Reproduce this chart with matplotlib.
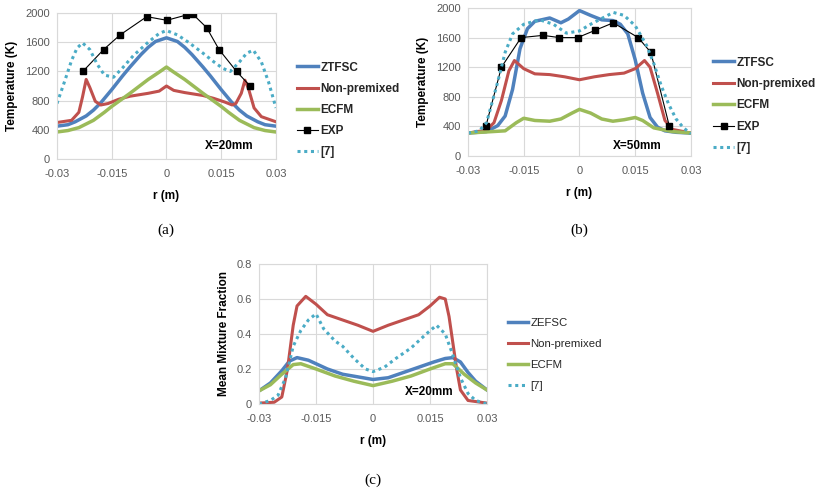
import matplotlib
matplotlib.use("Agg")
import matplotlib.pyplot as plt

# ---- panel (a): temperature, X=20mm ----
a_ztfsc_r = [-0.03, -0.027, -0.025, -0.022, -0.02, -0.018, -0.015, -0.012, -0.01, -0.007, -0.005, -0.003, 0,
             0.003, 0.005, 0.007, 0.01, 0.012, 0.015, 0.018, 0.02, 0.022, 0.025, 0.027, 0.03]
a_ztfsc_t = [450, 470, 510, 590, 670, 770, 950, 1140, 1260, 1430, 1530, 1610, 1660,
             1610, 1530, 1430, 1260, 1140, 950, 770, 670, 590, 510, 470, 450]

a_ecfm_r = [-0.03, -0.027, -0.024, -0.02, -0.017, -0.015, -0.01, -0.005, -0.002, 0,
            0.002, 0.005, 0.01, 0.015, 0.017, 0.02, 0.024, 0.027, 0.03]
a_ecfm_t = [370, 390, 430, 530, 640, 720, 900, 1090, 1190, 1260,
            1190, 1090, 900, 720, 640, 530, 430, 390, 370]

a_nonp_r = [-0.03, -0.026, -0.024, -0.023, -0.022, -0.021, -0.0195, -0.018, -0.016, -0.013, -0.01, -0.005, -0.002, 0,
            0.002, 0.005, 0.01, 0.013, 0.016, 0.018, 0.019, 0.0205, 0.0215, 0.0225, 0.024, 0.026, 0.03]
a_nonp_t = [500, 530, 640, 850, 1090, 980, 790, 740, 760, 820, 860, 900, 930, 1000,
            940, 910, 870, 830, 780, 740, 760, 900, 1080, 960, 700, 580, 510]

a_ref7_r = [-0.03, -0.028, -0.026, -0.0245, -0.023, -0.021, -0.019, -0.017, -0.0145, -0.012, -0.009, -0.005, -0.002, 0,
            0.003, 0.006, 0.01, 0.013, 0.0155, 0.0175, 0.02, 0.022, 0.0238, 0.026, 0.028, 0.03]
a_ref7_t = [760, 1050, 1350, 1520, 1590, 1500, 1300, 1150, 1120, 1250, 1420, 1600, 1720, 1760,
            1700, 1600, 1450, 1330, 1240, 1200, 1330, 1450, 1490, 1330, 1050, 700]

a_exp_r = [-0.0229, -0.0172, -0.0127, -0.0054, 0.0001, 0.0053, 0.0072, 0.011, 0.0144, 0.0192, 0.0229]
a_exp_t = [1200, 1500, 1700, 1950, 1900, 1970, 1985, 1800, 1500, 1200, 1000]

# ---- panel (b): temperature, X=50mm ----
b_ztfsc_r = [-0.03, -0.025, -0.022, -0.02, -0.018, -0.016, -0.014, -0.012, -0.008, -0.005, -0.003, 0,
             0.003, 0.006, 0.009, 0.011, 0.013, 0.015, 0.017, 0.019, 0.021, 0.023, 0.026, 0.03]
b_ztfsc_t = [310, 330, 410, 540, 900, 1450, 1720, 1820, 1865, 1800, 1850, 1965,
             1900, 1840, 1830, 1780, 1650, 1300, 850, 520, 390, 340, 320, 310]

b_nonp_r = [-0.03, -0.025, -0.023, -0.021, -0.019, -0.0175, -0.015, -0.012, -0.008, -0.004, 0,
            0.004, 0.008, 0.012, 0.015, 0.0175, 0.019, 0.021, 0.023, 0.025, 0.03]
b_nonp_t = [310, 350, 450, 750, 1150, 1290, 1180, 1110, 1100, 1070, 1030,
            1070, 1100, 1120, 1180, 1290, 1200, 850, 480, 360, 310]

b_ecfm_r = [-0.03, -0.02, -0.017, -0.015, -0.012, -0.008, -0.005, -0.002, 0,
            0.003, 0.006, 0.009, 0.012, 0.015, 0.017, 0.02, 0.025, 0.03]
b_ecfm_t = [310, 340, 450, 510, 480, 470, 500, 580, 630,
            580, 500, 470, 490, 520, 480, 380, 330, 310]

b_ref7_r = [-0.03, -0.027, -0.025, -0.022, -0.02, -0.018, -0.015, -0.0107, -0.007, -0.0035, 0,
            0.003, 0.0091, 0.012, 0.015, 0.018, 0.02, 0.022, 0.024, 0.026, 0.028, 0.03]
b_ref7_t = [310, 340, 450, 1000, 1400, 1650, 1780, 1840, 1780, 1660, 1690,
            1780, 1940, 1900, 1760, 1500, 1250, 950, 700, 500, 380, 300]

b_exp_r = [-0.0252, -0.021, -0.0157, -0.0098, -0.0054, -0.0005, 0.0043, 0.0091, 0.0158, 0.0192, 0.0242]
b_exp_t = [400, 1200, 1600, 1630, 1600, 1600, 1700, 1800, 1600, 1400, 400]

# ---- panel (c): mean mixture fraction, X=20mm ----
c_zefsc_r = [-0.03, -0.027, -0.024, -0.022, -0.02, -0.017, -0.012, -0.008, -0.004, 0,
             0.004, 0.008, 0.012, 0.016, 0.019, 0.021, 0.023, 0.025, 0.027, 0.03]
c_zefsc_z = [0.075, 0.12, 0.19, 0.245, 0.265, 0.25, 0.2, 0.17, 0.155, 0.14,
             0.15, 0.18, 0.21, 0.24, 0.26, 0.265, 0.24, 0.18, 0.13, 0.08]

c_nonp_r = [-0.03, -0.026, -0.024, -0.0225, -0.021, -0.02, -0.0177, -0.015, -0.012, -0.008, -0.004, 0,
            0.004, 0.008, 0.012, 0.015, 0.0175, 0.019, 0.02, 0.021, 0.022, 0.023, 0.025, 0.03]
c_nonp_z = [0.005, 0.01, 0.04, 0.2, 0.45, 0.56, 0.615, 0.57, 0.51, 0.48, 0.45, 0.415,
            0.45, 0.48, 0.51, 0.56, 0.61, 0.6, 0.5, 0.35, 0.2, 0.08, 0.02, 0.005]

c_ecfm_r = [-0.03, -0.027, -0.024, -0.021, -0.019, -0.015, -0.01, -0.005, 0,
            0.005, 0.01, 0.015, 0.019, 0.021, 0.024, 0.027, 0.03]
c_ecfm_z = [0.075, 0.11, 0.17, 0.225, 0.23, 0.2, 0.16, 0.13, 0.105,
            0.13, 0.16, 0.2, 0.23, 0.23, 0.17, 0.12, 0.08]

c_ref7_r = [-0.03, -0.027, -0.025, -0.023, -0.021, -0.019, -0.017, -0.015, -0.013, -0.01, -0.008, -0.005, -0.002, 0,
            0.003, 0.006, 0.01, 0.014, 0.0167, 0.019, 0.021, 0.023, 0.025, 0.027, 0.03]
c_ref7_z = [0.0, 0.02, 0.05, 0.15, 0.33, 0.42, 0.48, 0.515, 0.43, 0.36, 0.33, 0.26, 0.2, 0.185,
            0.21, 0.26, 0.32, 0.4, 0.45, 0.4, 0.28, 0.15, 0.06, 0.02, 0.0]

r_ticks = [-0.03, -0.015, 0, 0.015, 0.03]
r_labels = ["-0.03", "-0.015", "0", "0.015", "0.03"]

BLUE = "#4F81BD"
RED = "#C0504D"
GREEN = "#9BBB59"
CYAN = "#4BACC6"
GRAY = "#595959"
GRID = "#D9D9D9"

plt.rcParams["font.family"] = ["Liberation Sans", "DejaVu Sans"]

fig = plt.figure(figsize=(8.15, 4.96), dpi=100)


def style_axes(ax, yticks, ylabels, ylabel, ylim):
    ax.set_xlim(-0.03, 0.03)
    ax.set_ylim(*ylim)
    ax.set_xticks(r_ticks)
    ax.set_xticklabels(r_labels)
    ax.set_yticks(yticks)
    ax.set_yticklabels(ylabels)
    ax.grid(True, color=GRID, linewidth=0.8)
    ax.set_axisbelow(True)
    for s in ax.spines.values():
        s.set_color(GRID)
        s.set_linewidth(0.8)
    ax.tick_params(length=0, labelsize=8, colors=GRAY)
    ax.tick_params(axis="x", pad=7)
    ax.tick_params(axis="y", pad=5)
    ax.set_xlabel("r (m)", fontsize=8.5, fontweight="bold", labelpad=8)
    ax.set_ylabel(ylabel, fontsize=8.5, fontweight="bold", labelpad=5)


def add_legend(ax, x, y, bold=True, size=8.5, spacing=0.75):
    ax.legend(loc="upper left", bbox_to_anchor=(x, y), bbox_transform=fig.transFigure,
              frameon=False, fontsize=size, handlelength=1.8, handletextpad=0.2,
              labelspacing=spacing, borderpad=0, borderaxespad=0)
    for t in ax.get_legend().get_texts():
        if bold:
            t.set_fontweight("bold")
        t.set_color("#262626")


t_ticks = [0, 400, 800, 1200, 1600, 2000]
t_labels = [str(v) for v in t_ticks]

# (a)
ax1 = fig.add_axes([0.0699, 0.6794, 0.2687, 0.2944])
ax1.plot(a_ztfsc_r, a_ztfsc_t, color=BLUE, lw=2.5, label="ZTFSC")
ax1.plot(a_nonp_r, a_nonp_t, color=RED, lw=2.2, label="Non-premixed")
ax1.plot(a_ecfm_r, a_ecfm_t, color=GREEN, lw=2.5, label="ECFM")
ax1.plot(a_exp_r, a_exp_t, color="black", lw=0.8, marker="s", ms=5, label="EXP")
ax1.plot(a_ref7_r, a_ref7_t, color=CYAN, lw=2.2, ls=(0, (1, 1.2)), label="[7]")
style_axes(ax1, t_ticks, t_labels, "Temperature (K)", (0, 2000))
ax1.text(0.0105, 180, "X=20mm", fontsize=8.5, fontweight="bold", va="center", ha="left")
add_legend(ax1, 0.364, 0.876, spacing=0.78)

# (b)
ax2 = fig.add_axes([0.5742, 0.6855, 0.2736, 0.2984])
ax2.plot(b_ztfsc_r, b_ztfsc_t, color=BLUE, lw=2.5, label="ZTFSC")
ax2.plot(b_nonp_r, b_nonp_t, color=RED, lw=2.2, label="Non-premixed")
ax2.plot(b_ecfm_r, b_ecfm_t, color=GREEN, lw=2.5, label="ECFM")
ax2.plot(b_exp_r, b_exp_t, color="black", lw=0.8, marker="s", ms=5, label="EXP")
ax2.plot(b_ref7_r, b_ref7_t, color=CYAN, lw=2.2, ls=(0, (1, 1.2)), label="[7]")
style_axes(ax2, t_ticks, t_labels, "Temperature (K)", (0, 2000))
ax2.text(0.009, 135, "X=50mm", fontsize=8.5, fontweight="bold", va="center", ha="left")
add_legend(ax2, 0.875, 0.886, spacing=0.8)

# (c)
ax3 = fig.add_axes([0.3178, 0.1855, 0.2798, 0.2823])
ax3.plot(c_zefsc_r, c_zefsc_z, color=BLUE, lw=2.5, label="ZEFSC")
ax3.plot(c_nonp_r, c_nonp_z, color=RED, lw=2.2, label="Non-premixed")
ax3.plot(c_ecfm_r, c_ecfm_z, color=GREEN, lw=2.5, label="ECFM")
ax3.plot(c_ref7_r, c_ref7_z, color=CYAN, lw=2.2, ls=(0, (1, 1.2)), label="[7]")
style_axes(ax3, [0, 0.2, 0.4, 0.6, 0.8], ["0", "0.2", "0.4", "0.6", "0.8"],
           "Mean Mixture Fraction", (0, 0.8))
ax3.text(0.0084, 0.069, "X=20mm", fontsize=8.5, fontweight="bold", va="center", ha="left")
add_legend(ax3, 0.623, 0.358, bold=False, size=8.2, spacing=0.95)

# panel captions
fig.text(166 / 815, 1 - 230 / 496, "(a)", family="Liberation Serif", fontsize=11, ha="center", va="center")
fig.text(579 / 815, 1 - 230 / 496, "(b)", family="Liberation Serif", fontsize=11, ha="center", va="center")
fig.text(373 / 815, 1 - 480 / 496, "(c)", family="Liberation Serif", fontsize=11, ha="center", va="center")

fig.savefig("out.png", dpi=100)
